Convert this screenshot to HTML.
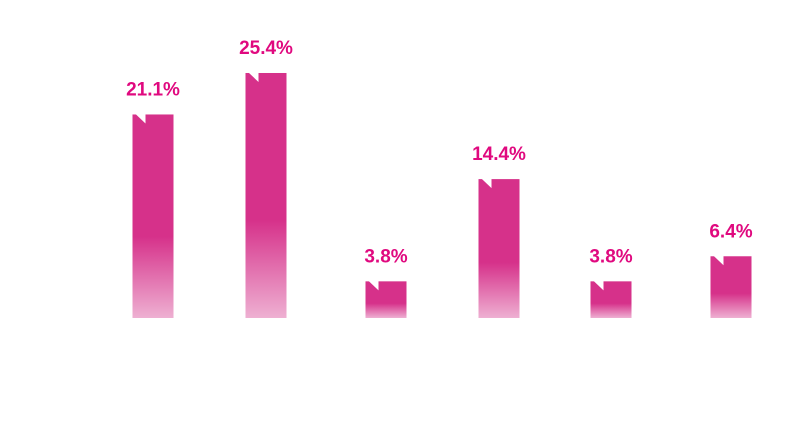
<!DOCTYPE html>
<html><head><meta charset="utf-8"><style>
html,body{margin:0;padding:0;background:#fff;}
svg{display:block;font-family:"Liberation Sans",sans-serif;}
</style></head><body>
<svg id="chart" width="802" height="421" viewBox="0 0 802 421">
<defs>
<linearGradient id="g" x1="0" y1="0" x2="0" y2="1" gradientUnits="objectBoundingBox">
<stop offset="0" stop-color="#d6318a"/>
<stop offset="0.6" stop-color="#d6318a"/>
<stop offset="1" stop-color="#eeb0d2"/>
</linearGradient>
</defs>
</svg>
<script>
const categories = ["A","B","C","D","E","F"];
const values = [21.1, 25.4, 3.8, 14.4, 3.8, 6.4];
const labels = ["21.1%","25.4%","3.8%","14.4%","3.8%","6.4%"];
const centers = [153, 266, 386, 499, 611, 731];
const svg = document.getElementById('chart');
const NS = 'http://www.w3.org/2000/svg';
const baseY = 318, perUnit = 9.646, bw = 41;
function y(v){ return baseY - v*perUnit; }
values.forEach((v,i)=>{
  const x = centers[i] - bw/2, top = y(v);
  const r = document.createElementNS(NS,'rect');
  r.setAttribute('x',x); r.setAttribute('y',top);
  r.setAttribute('width',bw); r.setAttribute('height',baseY-top);
  r.setAttribute('fill','url(#g)');
  
  
  svg.appendChild(r);
  const n = document.createElementNS(NS,'polygon');
  n.setAttribute('points',`${x+3},${top-0.5} ${x+13},${top-0.5} ${x+13},${top+9}`);
  n.setAttribute('fill','#fff');
  
  
  svg.appendChild(n);
  const t = document.createElementNS(NS,'text');
  t.setAttribute('x',centers[i]); t.setAttribute('y',top-19);
  t.setAttribute('text-anchor','middle');
  t.setAttribute('font-size','19'); t.setAttribute('font-weight','bold');
  t.setAttribute('fill','#e0097f');
  t.textContent = labels[i];
  
  
  svg.appendChild(t);
});
</script>
</body></html>
